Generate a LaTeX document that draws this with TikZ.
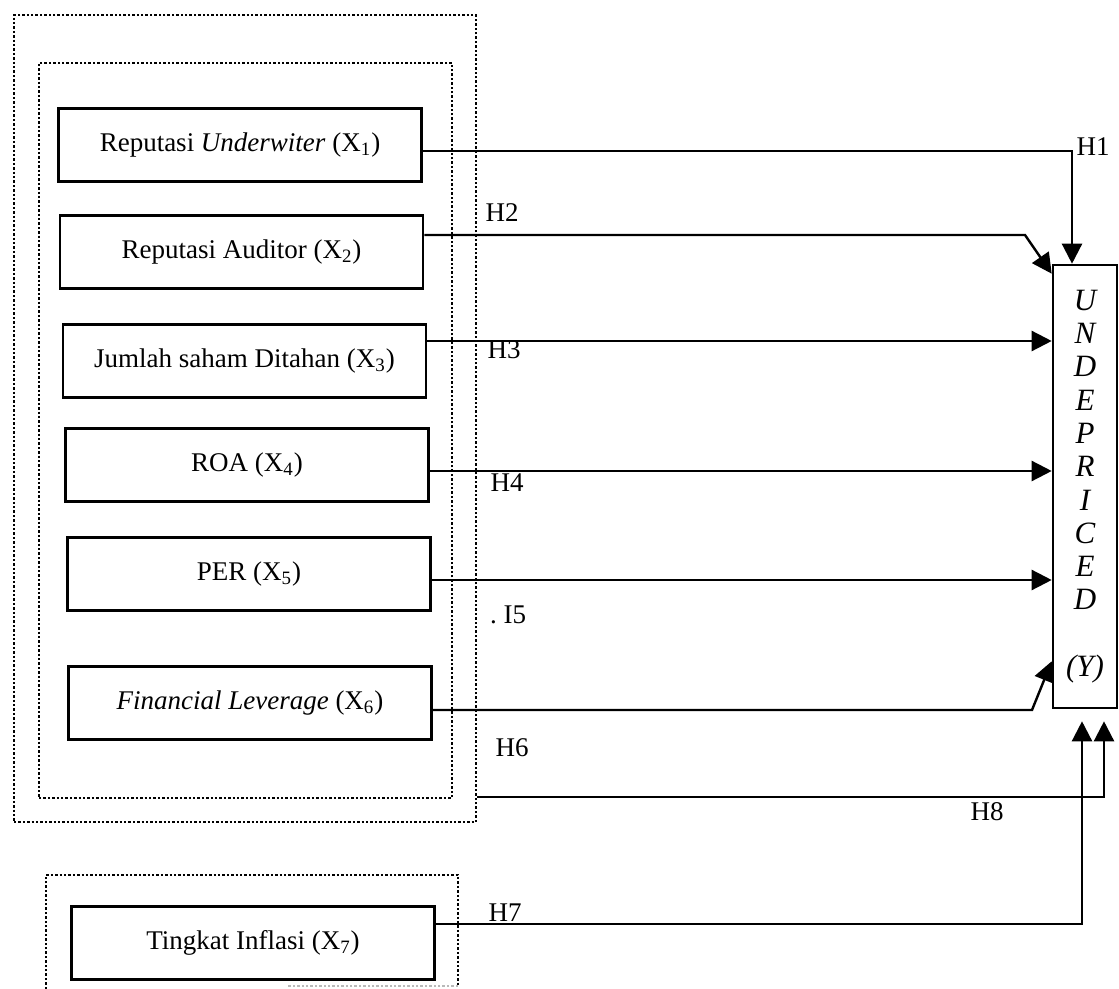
\documentclass[tikz,border=0pt]{standalone}
\usepackage{fontspec}
\setmainfont{Liberation Serif}
\usetikzlibrary{positioning, arrows.meta}
\tikzset{
  variabel/.style = {rectangle, draw=black, line width=1.3pt, align=center,
                     minimum width=181.5pt, minimum height=36.5pt, inner sep=0pt},
  terikat/.style  = {rectangle, draw=black, line width=1.3pt, align=center,
                     minimum width=32pt, minimum height=221.5pt, inner sep=0pt,
                     font=\fontsize{15.5}{16.65}\selectfont\itshape},
  bingkai/.style  = {draw=black, line width=1.2pt, densely dotted},
  hipo/.style     = {inner sep=0pt},
  panah/.style    = {-{Triangle[length=10pt, width=10pt]}, line width=1.2pt},
}

\begin{document}
\begin{tikzpicture}[x=0.5pt, y=-0.5pt, font=\fontsize{13.5}{16}\selectfont]
  \useasboundingbox (0,0) rectangle (1119,989);
  % --- bingkai titik-titik ---
  \node[bingkai, minimum width=231pt, minimum height=403.5pt] at (245,418.5) (luar) {};
  \node[bingkai, minimum width=206.5pt, minimum height=367.5pt] at (245.5,430.5) (dalam) {};
  \draw[bingkai] (46,989) -- (46,875) -- (458,875) -- (458,986);
  \draw[bingkai, draw=gray!55] (458,986) -- (287,986);

  % --- variabel bebas ---
  \node[variabel] at (240,145)   (x1) {Reputasi \textit{Underwiter} (X\textsubscript{1})};
  \node[variabel] at (241.5,252) (x2) {Reputasi Auditor (X\textsubscript{2})};
  \node[variabel] at (244.5,361) (x3) {Jumlah saham Ditahan (X\textsubscript{3})};
  \node[variabel] at (247,465)   (x4) {ROA (X\textsubscript{4})};
  \node[variabel] at (249,574)   (x5) {PER (X\textsubscript{5})};
  \node[variabel] at (250,703)   (x6) {\textit{Financial Leverage} (X\textsubscript{6})};
  \node[variabel] at (253,943)   (x7) {Tingkat Inflasi (X\textsubscript{7})};

  % --- variabel terikat ---
  \node[terikat] at (1085,486.5) (und) {U\\N\\D\\E\\P\\R\\I\\C\\E\\D\\[16.65pt](Y)};

  % --- hipotesis ---
  \coordinate (a3) at ([yshift=10pt]x3.east);
  \coordinate (a4) at ([yshift=-3pt]x4.east);
  \coordinate (a5) at ([yshift=-3pt]x5.east);
  \coordinate (a6) at ([yshift=-3.5pt]x6.east);
  \coordinate (a7) at ([yshift=9.5pt]x7.east);
  \coordinate (tekuk2) at (1025,235);
  \coordinate (tekuk6) at (1032,710);

  \draw[panah] ([yshift=-3pt]x1.east) -| ([xshift=-6.5pt]und.north);
  \draw[panah] ([yshift=8.5pt]x2.east) -- (tekuk2) -- ([yshift=-5pt]und.north west);
  \draw[panah] (a3) -- (a3 -| und.west);
  \draw[panah] (a4) -- (a4 -| und.west);
  \draw[panah] (a5) -- (a5 -| und.west);
  \draw[panah] (a6) -- (tekuk6) -- ([yshift=24pt]und.south west);
  \draw[panah] (a7) -| ([xshift=-1.5pt, yshift=-6pt]und.south);
  \draw[panah] ([yshift=13pt]luar.south east) -| ([xshift=9.5pt, yshift=-6pt]und.south);

  \node[hipo] at (1093,147) (h1) {H1};
  \node[hipo] at (502,213)  (h2) {H2};
  \node[hipo] at (504,350)  (h3) {H3};
  \node[hipo] at (507,483)  (h4) {H4};
  \node[hipo] at (508,615)  (h5) {.\ I5};
  \node[hipo] at (512,748)  (h6) {H6};
  \node[hipo] at (505,913)  (h7) {H7};
  \node[hipo] at (987,812)  (h8) {H8};
\end{tikzpicture}
\end{document}
